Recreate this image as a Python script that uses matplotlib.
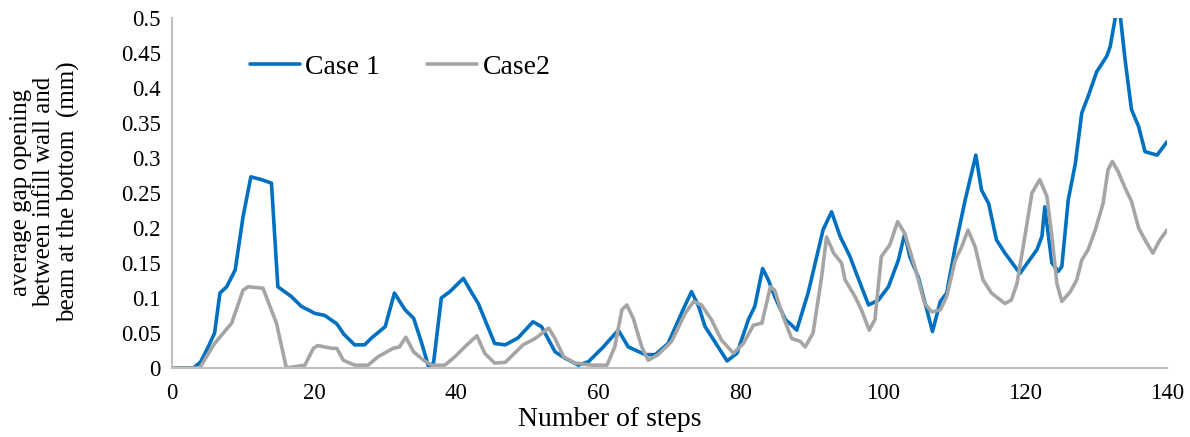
import matplotlib.pyplot as plt

# Case 1 (blue) - gap opening
case1_steps = [0, 3, 4, 5.1, 6, 6.75, 7.7, 8.9, 10, 11.1, 12.6, 14, 14.9, 16.8, 18.2,
               20.1, 21.5, 23.2, 24.2, 25.7, 27.1, 28.1, 30, 31.3, 32.8, 34, 35, 36.1,
               36.8, 37.9, 39.1, 41, 42.2, 43.1, 45.4, 46.9, 48.7, 50.8, 52, 53.9, 55.3,
               57.2, 58.6, 60.5, 62.8, 64.2, 66.6, 68, 69.8, 71.9, 73.1, 74.1, 75, 75.9,
               78.1, 79.5, 81.1, 82, 83.1, 83.9, 84.8, 86.3, 86.9, 87.9, 89.5, 91.6, 92.8,
               94, 95.4, 96.1, 98, 99.4, 100.8, 102.2, 103.1, 103.8, 105, 107, 108.1, 109,
               110.2, 111.6, 113.1, 113.9, 114.9, 116, 117.2, 119.3, 120.5, 121.7, 122.4,
               122.8, 123.8, 124.7, 125.2, 126.1, 127.1, 128, 128.9, 130.1, 131.5, 132,
               132.8, 133.4, 134.1, 135, 136, 136.9, 138.6, 140]
case1_gap = [0, 0, 0.008, 0.03, 0.05, 0.107, 0.116, 0.14, 0.216, 0.273, 0.269, 0.264, 0.116,
             0.102, 0.088, 0.078, 0.075, 0.063, 0.048, 0.033, 0.033, 0.043, 0.059, 0.107,
             0.083, 0.071, 0.04, 0.002, 0.007, 0.1, 0.109, 0.128, 0.107, 0.092, 0.035, 0.033,
             0.043, 0.066, 0.059, 0.023, 0.014, 0.004, 0.009, 0.028, 0.054, 0.030, 0.019,
             0.019, 0.035, 0.083, 0.109, 0.088, 0.059, 0.045, 0.010, 0.021, 0.069, 0.088,
             0.142, 0.126, 0.102, 0.069, 0.064, 0.054, 0.107, 0.197, 0.223, 0.188, 0.159,
             0.14, 0.09, 0.097, 0.116, 0.154, 0.192, 0.159, 0.130, 0.052, 0.095, 0.107,
             0.173, 0.24, 0.304, 0.254, 0.235, 0.183, 0.164, 0.135, 0.152, 0.169, 0.188,
             0.23, 0.150, 0.138, 0.145, 0.24, 0.292, 0.364, 0.388, 0.423, 0.445, 0.459,
             0.505, 0.505, 0.44, 0.369, 0.345, 0.309, 0.304, 0.323]

# Case2 (gray)
case2_steps = [0, 3.9, 6, 8.4, 10, 10.7, 12.8, 14.7, 16.1, 18.7, 19.9, 20.5, 22.5, 23.2,
               24.1, 25.7, 27.6, 29, 31.1, 32, 32.9, 34, 35.4, 36.5, 38.4, 39.8, 41.5,
               42.9, 44, 45.4, 46.9, 49.4, 51.1, 53, 53.9, 55.1, 56.7, 59.1, 61.2, 62.3,
               63.3, 64, 64.9, 66.1, 67, 68.4, 70.3, 72.2, 73.4, 74.5, 75.9, 77.3, 79,
               80.4, 81.8, 83, 84.2, 84.8, 86, 87.2, 88.4, 89.1, 90.2, 91.4, 92.1, 93.1,
               94.2, 94.7, 96.1, 97, 98.1, 98.9, 99.8, 101, 102.1, 103.1, 104.5, 105.9,
               106.9, 108.1, 109, 110.2, 111.1, 112, 113, 114.1, 115.3, 117.2, 118.1,
               118.9, 120, 121, 122.1, 123.1, 123.8, 124.5, 125.2, 126.4, 127.3, 128,
               128.9, 129.9, 131, 131.7, 132.3, 133.1, 134.1, 135, 136, 136.9, 138, 139, 140]
case2_gap = [0, 0, 0.035, 0.064, 0.111, 0.116, 0.114, 0.064, 0.0, 0.004, 0.028, 0.032, 0.028,
             0.028, 0.011, 0.004, 0.004, 0.016, 0.028, 0.03, 0.044, 0.023, 0.011, 0.004,
             0.004, 0.016, 0.033, 0.046, 0.021, 0.007, 0.008, 0.033, 0.042, 0.057, 0.042,
             0.016, 0.007, 0.004, 0.004, 0.03, 0.083, 0.09, 0.071, 0.03, 0.011, 0.019,
             0.038, 0.078, 0.095, 0.09, 0.069, 0.04, 0.021, 0.035, 0.061, 0.064, 0.116,
             0.111, 0.073, 0.042, 0.038, 0.030, 0.05, 0.130, 0.187, 0.164, 0.15, 0.126,
             0.102, 0.083, 0.054, 0.069, 0.159, 0.176, 0.209, 0.192, 0.145, 0.092, 0.080,
             0.083, 0.102, 0.154, 0.173, 0.197, 0.173, 0.126, 0.107, 0.092, 0.097, 0.121,
             0.188, 0.25, 0.269, 0.245, 0.188, 0.121, 0.095, 0.109, 0.126, 0.154, 0.169,
             0.197, 0.235, 0.283, 0.295, 0.281, 0.257, 0.238, 0.2, 0.183, 0.164, 0.183, 0.197]

x_ticks = [0, 20, 40, 60, 80, 100, 120, 140]
y_ticks = [0, 0.05, 0.1, 0.15, 0.2, 0.25, 0.3, 0.35, 0.4, 0.45, 0.5]
y_tick_labels = ['0', '0.05', '0.1', '0.15', '0.2', '0.25', '0.3', '0.35', '0.4', '0.45', '0.5']

plt.rcParams['font.family'] = ['Liberation Serif', 'DejaVu Serif']

fig = plt.figure(figsize=(11.9, 4.37), dpi=100)
ax = fig.add_axes([0.1445, 0.158, 0.8362, 0.801])

ax.plot(case1_steps, case1_gap, color='#0070C0', lw=2.6, label='Case 1',
        solid_joinstyle='round', solid_capstyle='round')
ax.plot(case2_steps, case2_gap, color='#A5A5A5', lw=2.6, label='Case2',
        solid_joinstyle='round', solid_capstyle='round')

ax.set_xlim(0, 140)
ax.set_ylim(0, 0.5)
ax.set_xticks(x_ticks)
ax.set_yticks(y_ticks)
ax.set_yticklabels(y_tick_labels)
ax.tick_params(length=0, labelsize=16.5)
ax.tick_params(axis='y', pad=8)
ax.tick_params(axis='x', pad=11)

for side in ['top', 'right']:
    ax.spines[side].set_visible(False)
for side in ['left', 'bottom']:
    ax.spines[side].set_color('#BFBFBF')
    ax.spines[side].set_linewidth(1.5)

ax.legend(loc='center left', bbox_to_anchor=(0.078, 0.86), ncol=2, frameon=False,
          fontsize=20, handlelength=1.8, handletextpad=0.2, columnspacing=1.7,
          borderpad=0, borderaxespad=0)

fig.text(610 / 1190, 1 - 420 / 437, 'Number of steps', fontsize=20,
         ha='center', va='center')
fig.text(45 / 1190, 1 - 192 / 437,
         'average gap opening\nbetween infill wall and\nbeam at the bottom  (mm)',
         fontsize=18, rotation=90, ha='center', va='center', multialignment='center',
         linespacing=1.08)

fig.savefig('out.png', dpi=100)
